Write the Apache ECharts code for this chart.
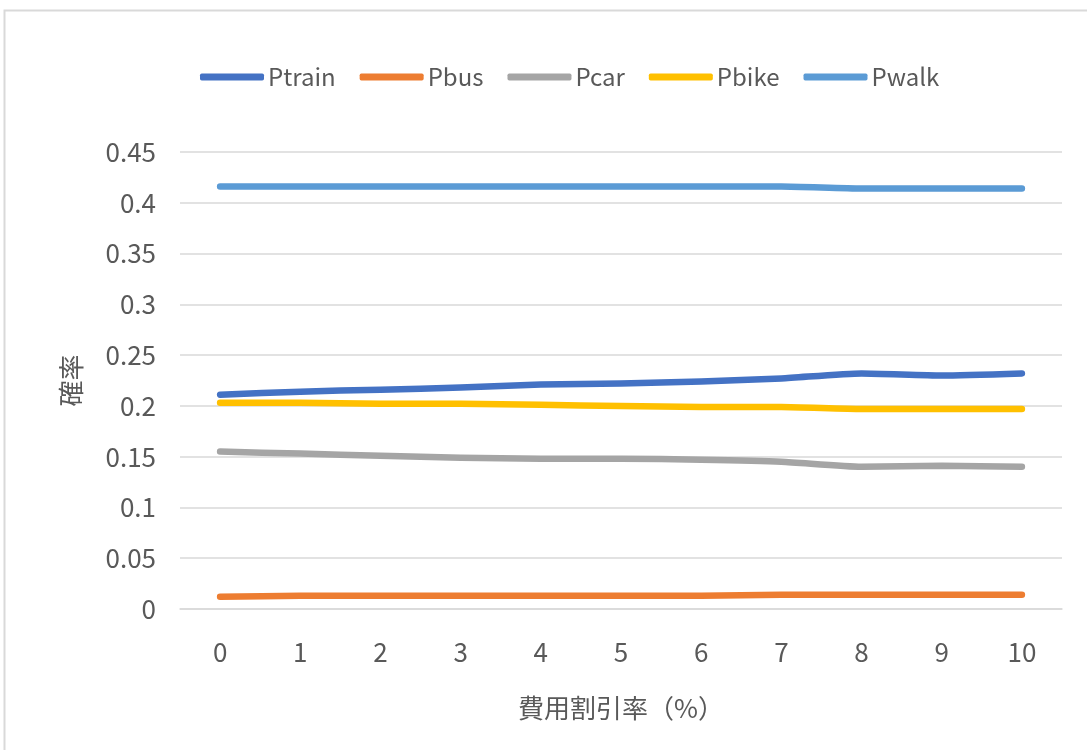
<!DOCTYPE html>
<html>
<head>
<meta charset="utf-8">
<script src="https://cdn.jsdelivr.net/npm/echarts@6/dist/echarts.min.js"></script>
<style>
  html, body { margin: 0; padding: 0; background: #fff; }
  #chart { width: 1087px; height: 750px; }
</style>
</head>
<body>
<div id="chart"></div>
<script>
const categories = ['0', '1', '2', '3', '4', '5', '6', '7', '8', '9', '10']
const yTicks = [0, 0.05, 0.1, 0.15, 0.2, 0.25, 0.3, 0.35, 0.4, 0.45]

const ptrain = [0.211, 0.214, 0.216, 0.218, 0.221, 0.222, 0.224, 0.227, 0.232, 0.230, 0.232]
const pbus = [0.012, 0.013, 0.013, 0.013, 0.013, 0.013, 0.013, 0.014, 0.014, 0.014, 0.014]
const pcar = [0.155, 0.153, 0.151, 0.149, 0.148, 0.148, 0.147, 0.145, 0.140, 0.141, 0.140]
const pbike = [0.203, 0.203, 0.202, 0.202, 0.201, 0.200, 0.199, 0.199, 0.197, 0.197, 0.197]
const pwalk = [0.416, 0.416, 0.416, 0.416, 0.416, 0.416, 0.416, 0.416, 0.414, 0.414, 0.414]

const FONT = '"Noto Sans CJK JP", "Noto Sans", sans-serif'
const TEXT = '#595959'
const GRID = '#d9d9d9'

const chart = echarts.init(document.getElementById('chart'))

const mkSeries = (name, data, color) => ({
  name: name,
  type: 'line',
  data: data,
  symbol: 'none',
  smooth: 0.2,
  itemStyle: { color: color },
  lineStyle: { color: color, width: 6.5, cap: 'round', join: 'round' }
})

const option = {
  backgroundColor: '#fff',
  animation: false,
  textStyle: { fontFamily: FONT },
  graphic: [
    {
      type: 'rect',
      shape: { x: 4.5, y: 10.5, width: 1200, height: 800 },
      style: { fill: 'none', stroke: GRID, lineWidth: 2 },
      silent: true
    }
  ],
  legend: {
    left: 195,
    top: 60,
    itemWidth: 64,
    itemHeight: 7,
    itemGap: 24,
    icon: 'roundRect',
    textStyle: { color: TEXT, fontSize: 24, fontFamily: FONT, padding: [0, 0, 0, -1] },
    data: ['Ptrain', 'Pbus', 'Pcar', 'Pbike', 'Pwalk']
  },
  grid: {
    left: 180,
    right: 25,
    top: 152,
    bottom: 141
  },
  xAxis: {
    type: 'category',
    data: categories,
    boundaryGap: true,
    name: '費用割引率（%）',
    nameLocation: 'middle',
    nameGap: 86,
    nameTextStyle: { color: TEXT, fontSize: 26, fontFamily: FONT },
    axisLine: { lineStyle: { color: GRID, width: 1.5 } },
    axisTick: { show: false },
    axisLabel: { color: TEXT, fontSize: 26, margin: 30, fontFamily: FONT }
  },
  yAxis: {
    type: 'value',
    min: yTicks[0],
    max: yTicks[yTicks.length - 1],
    interval: 0.05,
    name: '確率',
    nameLocation: 'middle',
    nameGap: 96,
    nameTextStyle: { color: TEXT, fontSize: 26, fontFamily: FONT },
    axisLine: { show: false },
    axisTick: { show: false },
    axisLabel: {
      color: TEXT,
      fontSize: 26,
      margin: 24,
      fontFamily: FONT,
      formatter: (v) => String(Math.round(v * 100) / 100)
    },
    splitLine: { lineStyle: { color: GRID, width: 1.5 } }
  },
  series: [
    mkSeries('Ptrain', ptrain, '#4472C4'),
    mkSeries('Pbus', pbus, '#ED7D31'),
    mkSeries('Pcar', pcar, '#A5A5A5'),
    mkSeries('Pbike', pbike, '#FFC000'),
    mkSeries('Pwalk', pwalk, '#5B9BD5')
  ]
}

chart.setOption(option)
</script>
</body>
</html>
